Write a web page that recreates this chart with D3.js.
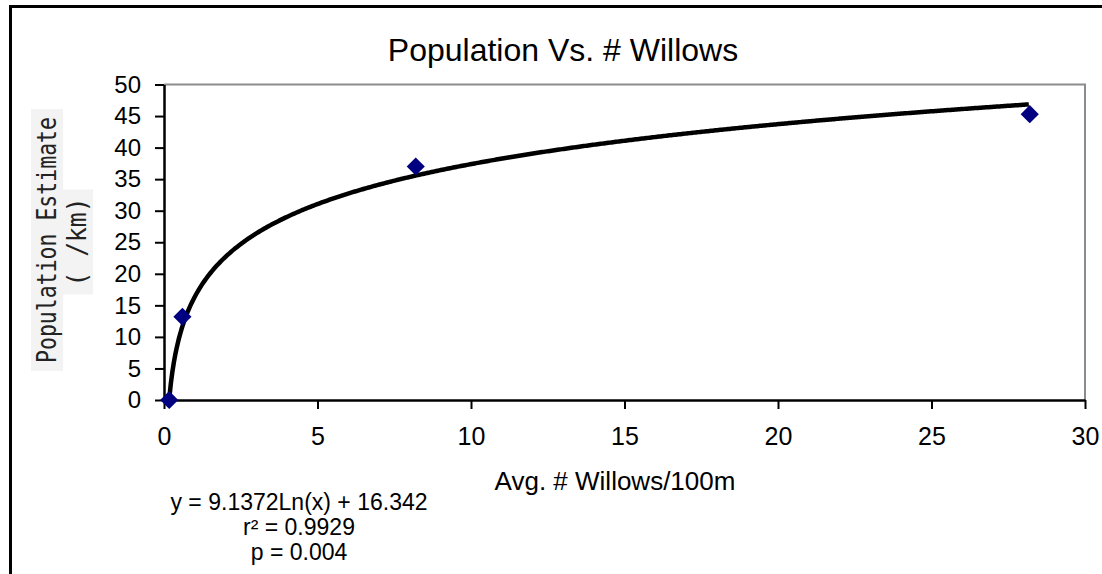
<!DOCTYPE html>
<html>
<head>
<meta charset="utf-8">
<script src="https://cdn.jsdelivr.net/npm/d3@7"></script>
<style>
  body { margin: 0; background: #fff; overflow: hidden; }
  text { font-family: Arial, "Liberation Sans", sans-serif; }
</style>
</head>
<body>
<script>
// observed data
const willows = [0.17, 0.6, 8.2, 28.2];
const population = [0, 13.2, 37, 45.3];
// trendline given on the chart
const trendA = 9.1372;
const trendB = 16.342;
const trendLabels = ["y = 9.1372Ln(x) + 16.342", "r\u00b2 = 0.9929", "p = 0.004"];
const xTicks = [0, 5, 10, 15, 20, 25, 30];
const yTicks = [0, 5, 10, 15, 20, 25, 30, 35, 40, 45, 50];

const width = 1102, height = 574;
const svg = d3.select('body').append('svg')
    .attr('width', width)
    .attr('height', height)
    .style('display', 'block');

// chart frame (right/bottom edges fall outside the picture)
svg.append('path')
    .attr('d', `M10.5,${height}V6.5H${width}`)
    .attr('fill', 'none')
    .attr('stroke', '#000')
    .attr('stroke-width', 3);

const x = d3.scaleLinear().domain([0, 30]).range([164, 1085]);
const y = d3.scaleLinear().domain([0, 50]).range([400, 84.5]);

// plot area border (top + right grey)
svg.append('path')
    .attr('d', `M${x(0)},${y(50)}H${x(30)}V${y(0)}`)
    .attr('fill', 'none')
    .attr('stroke', '#8c8c8c')
    .attr('stroke-width', 2);

const xAxis = svg.append('g')
    .attr('transform', `translate(0,${y(0)})`)
    .call(d3.axisBottom(x).tickValues(xTicks).tickSize(9).tickPadding(18).tickSizeOuter(0));
xAxis.select('.domain').attr('stroke-width', 2.5);
xAxis.selectAll('line').attr('stroke-width', 2);
xAxis.selectAll('text').attr('font-size', 25).attr('fill', '#000');

const yAxis = svg.append('g')
    .attr('transform', `translate(${x(0)},0)`)
    .call(d3.axisLeft(y).tickValues(yTicks).tickSize(9).tickPadding(14).tickSizeOuter(0));
yAxis.select('.domain').attr('stroke-width', 2.5);
yAxis.selectAll('line').attr('stroke-width', 2);
yAxis.selectAll('text').attr('font-size', 24).attr('fill', '#000');

// title
svg.append('text')
    .attr('x', 563).attr('y', 61)
    .attr('text-anchor', 'middle')
    .attr('font-size', 32)
    .text('Population Vs. # Willows');

// x title
svg.append('text')
    .attr('x', 615).attr('y', 490)
    .attr('text-anchor', 'middle')
    .attr('font-size', 26)
    .text('Avg. # Willows/100m');

// y title, two lines with light backgrounds
const yTitle = [
    { text: 'Population Estimate', cx: 47, cy: 240, len: 246 },
    { text: '( /km)', cx: 77, cy: 242, len: 89 }
];
yTitle.forEach(t => {
    const g = svg.append('g')
        .attr('transform', `translate(${t.cx},${t.cy}) rotate(-90)`);
    const bg = g.append('rect').attr('fill', '#f3f3f3');
    const txt = g.append('text')
        .attr('text-anchor', 'middle')
        .attr('dy', '0.35em')
        .attr('font-size', 26)
        .attr('textLength', t.len)
        .attr('lengthAdjust', 'spacingAndGlyphs')
        .style('font-family', '"DejaVu Sans Mono", monospace')
        .attr('fill', '#222')
        .text(t.text);
    const bb = txt.node().getBBox();
    bg.attr('x', -t.len / 2 - 8).attr('y', bb.y - 1)
        .attr('width', t.len + 16).attr('height', bb.height + 2);
});

// trendline
const trend = d3.range(willows[0], willows[3] + 0.001, 0.05)
    .map(v => [v, trendA * Math.log(v) + trendB]);
svg.append('path')
    .datum(trend)
    .attr('fill', 'none')
    .attr('stroke', '#000')
    .attr('stroke-width', 4.5)
    .attr('stroke-linejoin', 'round')
    .attr('d', d3.line().x(d => x(d[0])).y(d => y(Math.max(d[1], 0))));

// markers
svg.selectAll('path.pt')
    .data(willows)
    .enter()
    .append('path')
    .attr('class', 'pt')
    .attr('d', d3.symbol().type(d3.symbolDiamond2).size(210))
    .attr('transform', (d, i) => `translate(${x(d)},${y(population[i])})`)
    .attr('fill', '#000080');

// equation labels
svg.selectAll('text.eq')
    .data(trendLabels)
    .enter()
    .append('text')
    .attr('class', 'eq')
    .attr('x', 299)
    .attr('y', (d, i) => 510 + i * 25)
    .attr('text-anchor', 'middle')
    .attr('font-size', 23)
    .text(d => d);
</script>
</body>
</html>
